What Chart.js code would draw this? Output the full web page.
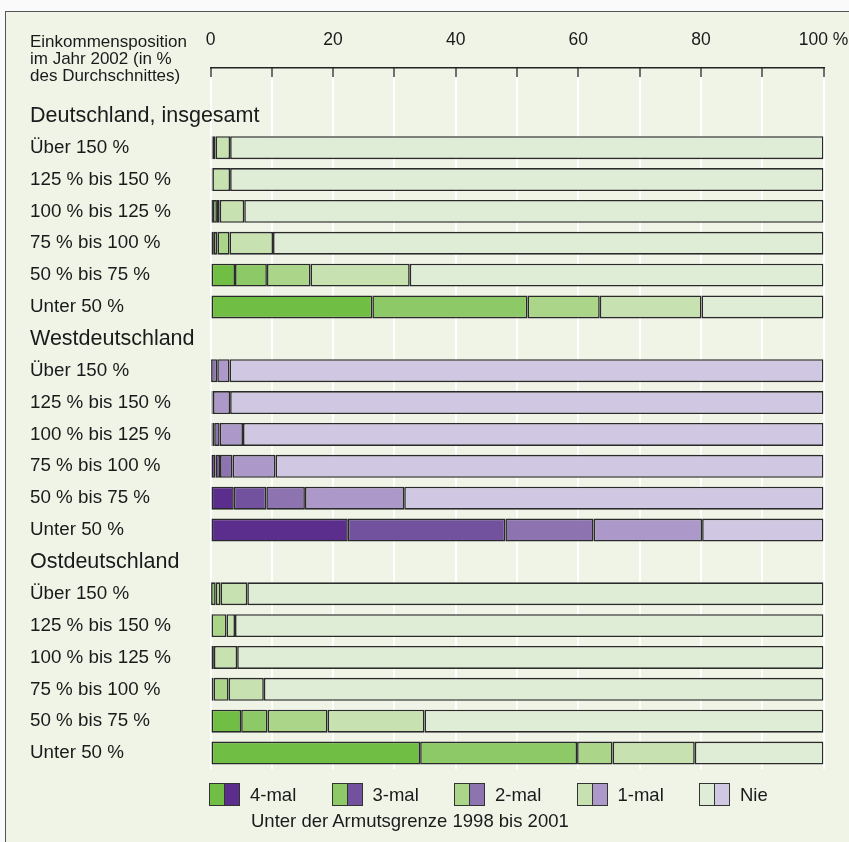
<!DOCTYPE html>
<html>
<head>
<meta charset="utf-8">
<script src="https://cdn.jsdelivr.net/npm/chart.js@4.4.1/dist/chart.umd.min.js"></script>
<style>
  body{margin:0;background:#fafafa;font-family:"Liberation Sans",Arial,sans-serif;color:#1a1a1a;}
  #panel{position:absolute;left:5px;top:11px;width:860px;height:850px;background:#eff4e7;border-top:1.5px solid #555;border-left:1.5px solid #555;}
  #wrap{position:absolute;left:0;top:0;width:849px;height:842px;}
  #head{position:absolute;left:30px;top:33px;font-size:17px;line-height:17px;}
  #legend{position:absolute;left:209px;top:783px;display:flex;}
  .item{width:122.5px;display:flex;align-items:center;font-size:18.5px;}
  .box{width:31px;height:23px;display:flex;border:1px solid #333;box-sizing:border-box;margin-right:10px;}
  .box span{flex:1;}
  .box span+span{border-left:1px solid #333;}
  #sub{position:absolute;left:251px;top:810px;font-size:18.5px;}
</style>
</head>
<body>
<div id="panel"></div>
<div id="wrap"><canvas id="myChart" width="849" height="842"></canvas></div>
<div id="head">Einkommensposition<br>im Jahr 2002 (in %<br>des Durchschnittes)</div>
<div id="legend"></div>
<div id="sub">Unter der Armutsgrenze 1998 bis 2001</div>
<script>
// groups and rows
const regions=["Deutschland, insgesamt","Westdeutschland","Ostdeutschland"];
const rowLabels=["Über 150 %","125 % bis 150 %","100 % bis 125 %","75 % bis 100 %","50 % bis 75 %","Unter 50 %"];
const seriesNames=["4-mal","3-mal","2-mal","1-mal","Nie"];
const xTicks=[0,20,40,60,80,100];

// share in % per row: Deutschland (6), West (6), Ost (6)
const mal4=[0.2,0.2,0.4,0.55,4.0,26.4,  0.0,0.3,0.3,0.8,3.8,22.4,  0.1,0.0,0.0,0.2,5.0,34.2];
const mal3=[0.1,0.1,0.65,0.6,5.2,25.3,  0.1,0.1,0.3,0.75,5.3,25.7, 0.75,0.0,0.0,0.3,4.3,25.6];
const mal2=[0.5,0.0,0.45,1.95,7.1,11.8, 1.0,0.0,0.9,2.05,6.3,14.4, 0.8,2.6,0.55,2.45,9.8,5.8];
const mal1=[2.4,2.9,4.0,7.1,16.2,16.6,  2.0,2.8,3.8,7.0,16.2,17.7,  4.35,1.4,3.8,5.75,15.8,13.4];
const nie =[96.8,96.8,94.5,89.8,67.5,19.9, 96.9,96.8,94.7,89.4,68.4,19.8, 94.0,96.0,95.65,91.3,65.1,21.0];

// colours: green for Deutschland/Ost, purple for West
const greens=["#71be45","#8dc966","#abd68a","#c7e1b1","#e0edd6"];
const purples=["#5b2d8c","#72519e","#8d74b1","#ad99c9","#d0c8e3"];

const FONT="'Liberation Sans', Arial, sans-serif";

// build category list: blank slot, then header + rows for each region
var labels=[""];
var headerIdx=[];
var rowGroup=[-1];
for(let g=0;g<regions.length;g++){
  headerIdx.push(labels.length);
  labels.push(regions[g]);
  rowGroup.push(-1);
  for(let r=0;r<rowLabels.length;r++){
    labels.push(rowLabels[r]);
    rowGroup.push(g);
  }
}

function spread(vals){
  var out=[];
  var k=0;
  for(let i=0;i<labels.length;i++){
    if(rowGroup[i]<0){out.push(null);}
    else{out.push(vals[k]);k++;}
  }
  return out;
}

const allSeries=[mal4,mal3,mal2,mal1,nie];
var datasets=[];
for(let s=0;s<seriesNames.length;s++){
  var cols=[];
  for(let i=0;i<labels.length;i++){
    cols.push(rowGroup[i]==1 ? purples[s] : greens[s]);
  }
  datasets.push({
    label:seriesNames[s],
    data:spread(allSeries[s]),
    backgroundColor:cols,
    borderColor:"#2a2a2a",
    borderWidth:1.6,
    borderSkipped:false,
    barPercentage:0.72,
    categoryPercentage:1.0
  });
}

// region headers are wider than the y axis, so they are written here (not clipped)
const groupTitles={
  id:"groupTitles",
  afterDraw(chart){
    const y=chart.scales.y;
    const c=chart.ctx;
    c.save();
    c.font="21.5px "+FONT;
    c.fillStyle="#1a1a1a";
    c.textAlign="left";
    c.textBaseline="middle";
    for(let g=0;g<headerIdx.length;g++){
      c.fillText(regions[g],y.left,y.getPixelForValue(headerIdx[g]));
    }
    c.restore();
  }
};

const ctx=document.getElementById("myChart");
new Chart(ctx,{
  type:"bar",
  data:{labels:labels,datasets:datasets},
  plugins:[groupTitles],
  options:{
    indexAxis:"y",
    responsive:false,
    animation:false,
    layout:{padding:{left:30,right:0,top:0,bottom:73}},
    plugins:{legend:{display:false},tooltip:{enabled:false}},
    scales:{
      x:{
        position:"top",
        stacked:true,
        min:0,max:100,
        afterFit:function(scale){scale.height=68;scale.paddingRight=25.5;scale.paddingLeft=0;},
        border:{display:true,color:"#222",width:1.5},
        grid:{color:"#ffffff",lineWidth:2,tickColor:"#222",tickWidth:1.3,tickLength:-9},
        ticks:{
          stepSize:10,
          autoSkip:false,
          maxRotation:0,
          padding:26,
          color:"#1a1a1a",
          font:{family:FONT,size:17.5},
          callback:function(v){
            if(xTicks.indexOf(v)<0){return "";}
            return v==100 ? "100 %" : String(v);
          }
        }
      },
      y:{
        stacked:true,
        afterFit:function(scale){scale.width=180.5;},
        border:{display:false},
        grid:{display:false},
        ticks:{
          crossAlign:"far",
          autoSkip:false,
          color:"#1a1a1a",
          font:{family:FONT,size:18.8},
          callback:function(v,i){
            return headerIdx.indexOf(i)>=0 ? "" : labels[i];
          }
        }
      }
    }
  }
});

// legend: split boxes, green half + purple half
var leg=document.getElementById("legend");
for(let s=0;s<seriesNames.length;s++){
  var it=document.createElement("div");
  it.className="item";
  it.innerHTML='<div class="box"><span style="background:'+greens[s]+'"></span><span style="background:'+purples[s]+'"></span></div>'+seriesNames[s];
  leg.appendChild(it);
}
</script>
</body>
</html>
